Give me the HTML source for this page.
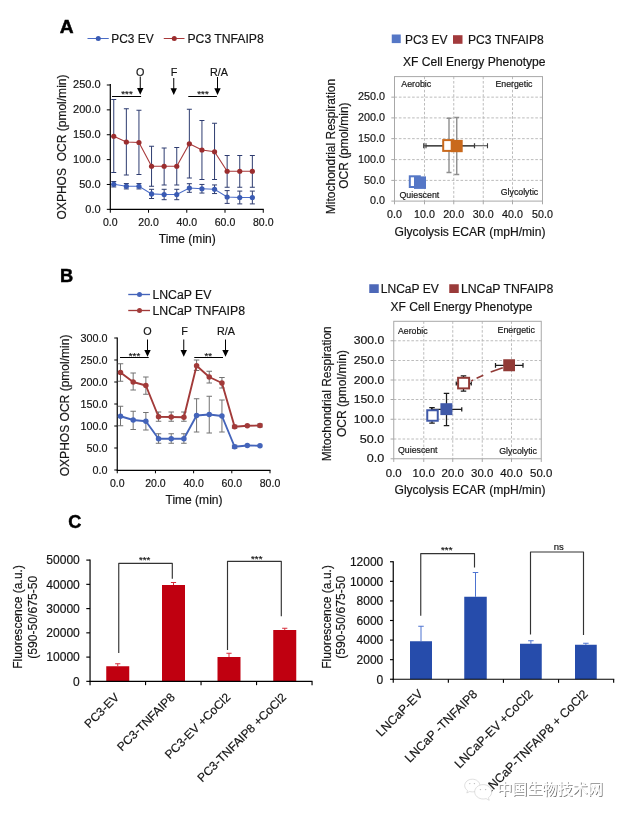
<!DOCTYPE html>
<html lang="en"><head><meta charset="utf-8"><title>Figure</title>
<style>html,body{margin:0;padding:0;background:#fff}svg{display:block}svg{will-change:transform;transform:translateZ(0)}text{font-family:"Liberation Sans",sans-serif;stroke:#141414;stroke-width:.18px}</style></head>
<body>
<svg width="622" height="816" viewBox="0 0 622 816">
<rect width="622" height="816" fill="#fff"/>
<text x="59.8" y="33.1" font-size="17.6" textLength="13.9" lengthAdjust="spacingAndGlyphs" font-weight="bold" fill="#000" style="stroke:#000;stroke-width:.45px">A</text>
<line x1="87.5" y1="38.5" x2="108.75" y2="38.5" stroke="#4a6cc6" stroke-width="1"/>
<circle cx="98.25" cy="38.5" r="2.5" fill="#3a5bb4"/>
<text x="111.25" y="43" font-size="12" textLength="42.4" lengthAdjust="spacingAndGlyphs" fill="#141414">PC3 EV</text>
<line x1="163.75" y1="38.5" x2="184.5" y2="38.5" stroke="#a8393a" stroke-width="1"/>
<circle cx="174.25" cy="38.5" r="2.5" fill="#9b2d2e"/>
<text x="187.5" y="43" font-size="12" textLength="76.25" lengthAdjust="spacingAndGlyphs" fill="#141414">PC3 TNFAIP8</text>
<text x="66" y="147" font-size="12" text-anchor="middle" textLength="145" lengthAdjust="spacingAndGlyphs" fill="#141414" transform="rotate(-90 66 147)">OXPHOS &#160;OCR (pmol/min)</text>
<line x1="110.3" y1="84" x2="110.3" y2="209.85" stroke="#000" stroke-width="1.2"/>
<line x1="109.8" y1="209.35" x2="263.75" y2="209.35" stroke="#000" stroke-width="1.2"/>
<line x1="106.8" y1="85.0" x2="110.3" y2="85.0" stroke="#000" stroke-width="1"/>
<text x="100.6" y="88.3" font-size="11" text-anchor="end" fill="#141414">250.0</text>
<line x1="106.8" y1="109.87" x2="110.3" y2="109.87" stroke="#000" stroke-width="1"/>
<text x="100.6" y="113.17" font-size="11" text-anchor="end" fill="#141414">200.0</text>
<line x1="106.8" y1="134.74" x2="110.3" y2="134.74" stroke="#000" stroke-width="1"/>
<text x="100.6" y="138.04" font-size="11" text-anchor="end" fill="#141414">150.0</text>
<line x1="106.8" y1="159.60999999999999" x2="110.3" y2="159.60999999999999" stroke="#000" stroke-width="1"/>
<text x="100.6" y="162.91" font-size="11" text-anchor="end" fill="#141414">100.0</text>
<line x1="106.8" y1="184.48" x2="110.3" y2="184.48" stroke="#000" stroke-width="1"/>
<text x="100.6" y="187.78" font-size="11" text-anchor="end" fill="#141414">50.0</text>
<line x1="106.8" y1="209.35" x2="110.3" y2="209.35" stroke="#000" stroke-width="1"/>
<text x="100.6" y="212.65" font-size="11" text-anchor="end" fill="#141414">0.0</text>
<line x1="110.3" y1="209.35" x2="110.3" y2="212.75" stroke="#000" stroke-width="1"/>
<text x="110.3" y="226.3" font-size="10.5" text-anchor="middle" fill="#141414">0.0</text>
<line x1="148.5375" y1="209.35" x2="148.5375" y2="212.75" stroke="#000" stroke-width="1"/>
<text x="148.54" y="226.3" font-size="10.5" text-anchor="middle" fill="#141414">20.0</text>
<line x1="186.77499999999998" y1="209.35" x2="186.77499999999998" y2="212.75" stroke="#000" stroke-width="1"/>
<text x="186.77" y="226.3" font-size="10.5" text-anchor="middle" fill="#141414">40.0</text>
<line x1="225.0125" y1="209.35" x2="225.0125" y2="212.75" stroke="#000" stroke-width="1"/>
<text x="225.01" y="226.3" font-size="10.5" text-anchor="middle" fill="#141414">60.0</text>
<line x1="263.25" y1="209.35" x2="263.25" y2="212.75" stroke="#000" stroke-width="1"/>
<text x="263.25" y="226.3" font-size="10.5" text-anchor="middle" fill="#141414">80.0</text>
<text x="187.25" y="243" font-size="12" text-anchor="middle" textLength="57" lengthAdjust="spacingAndGlyphs" fill="#141414">Time (min)</text>
<text x="140.1" y="75.6" font-size="10.8" text-anchor="middle" fill="#141414">O</text>
<path d="M140.25 76.5V89.0" stroke="#000" stroke-width="1" fill="none"/>
<path d="M137.05 88.0h6.4L140.25 94.8z" fill="#000"/>
<text x="174.1" y="75.6" font-size="10.8" text-anchor="middle" fill="#141414">F</text>
<path d="M173.75 78V89.2" stroke="#000" stroke-width="1" fill="none"/>
<path d="M170.55 88.2h6.4L173.75 95z" fill="#000"/>
<text x="219" y="75.6" font-size="10.8" text-anchor="middle" fill="#141414">R/A</text>
<path d="M217.5 77V89.2" stroke="#000" stroke-width="1" fill="none"/>
<path d="M214.3 88.2h6.4L217.5 95z" fill="#000"/>
<line x1="112" y1="96.5" x2="141.1" y2="96.5" stroke="#000" stroke-width="1"/>
<line x1="188.25" y1="96.5" x2="216.9" y2="96.5" stroke="#000" stroke-width="1"/>
<text x="127" y="97" font-size="9.7" text-anchor="middle" fill="#141414">***</text>
<text x="203" y="97" font-size="9.7" text-anchor="middle" fill="#141414">***</text>
<path d="M113.75 99.5V172.5M111.25 99.5h5M111.25 172.5h5" stroke="#2e3c70" stroke-width="1" fill="none"/>
<path d="M126.35 108.75V175M123.85 108.75h5M123.85 175h5" stroke="#2e3c70" stroke-width="1" fill="none"/>
<path d="M138.95 110.25V174.5M136.45 110.25h5M136.45 174.5h5" stroke="#2e3c70" stroke-width="1" fill="none"/>
<path d="M151.55 146.25V186.25M149.05 146.25h5M149.05 186.25h5" stroke="#2e3c70" stroke-width="1" fill="none"/>
<path d="M164.15 148V185M161.65 148h5M161.65 185h5" stroke="#2e3c70" stroke-width="1" fill="none"/>
<path d="M176.75 147.5V185M174.25 147.5h5M174.25 185h5" stroke="#2e3c70" stroke-width="1" fill="none"/>
<path d="M189.35 109.25V178M186.85 109.25h5M186.85 178h5" stroke="#2e3c70" stroke-width="1" fill="none"/>
<path d="M201.95 120.5V179.5M199.45 120.5h5M199.45 179.5h5" stroke="#2e3c70" stroke-width="1" fill="none"/>
<path d="M214.55 123.25V179.5M212.05 123.25h5M212.05 179.5h5" stroke="#2e3c70" stroke-width="1" fill="none"/>
<path d="M227.15 155.5V187.25M224.65 155.5h5M224.65 187.25h5" stroke="#2e3c70" stroke-width="1" fill="none"/>
<path d="M239.75 155.5V187.25M237.25 155.5h5M237.25 187.25h5" stroke="#2e3c70" stroke-width="1" fill="none"/>
<path d="M252.35 155.5V187.25M249.85 155.5h5M249.85 187.25h5" stroke="#2e3c70" stroke-width="1" fill="none"/>
<path d="M113.75 181.55V186.95M111.25 181.55h5M111.25 186.95h5" stroke="#2e3c70" stroke-width="1" fill="none"/>
<path d="M126.35 183.55V188.95M123.85 183.55h5M123.85 188.95h5" stroke="#2e3c70" stroke-width="1" fill="none"/>
<path d="M138.95 183.55V188.95M136.45 183.55h5M136.45 188.95h5" stroke="#2e3c70" stroke-width="1" fill="none"/>
<path d="M151.55 189.3V198.5M149.05 189.3h5M149.05 198.5h5" stroke="#2e3c70" stroke-width="1" fill="none"/>
<path d="M164.15 189.3V199.7M161.65 189.3h5M161.65 199.7h5" stroke="#2e3c70" stroke-width="1" fill="none"/>
<path d="M176.75 189.3V199.7M174.25 189.3h5M174.25 199.7h5" stroke="#2e3c70" stroke-width="1" fill="none"/>
<path d="M189.35 183.7V192.3M186.85 183.7h5M186.85 192.3h5" stroke="#2e3c70" stroke-width="1" fill="none"/>
<path d="M201.95 184.45V193.05M199.45 184.45h5M199.45 193.05h5" stroke="#2e3c70" stroke-width="1" fill="none"/>
<path d="M214.55 184.95V193.55M212.05 184.95h5M212.05 193.55h5" stroke="#2e3c70" stroke-width="1" fill="none"/>
<path d="M227.15 190.6V203.4M224.65 190.6h5M224.65 203.4h5" stroke="#2e3c70" stroke-width="1" fill="none"/>
<path d="M239.75 191.1V203.9M237.25 191.1h5M237.25 203.9h5" stroke="#2e3c70" stroke-width="1" fill="none"/>
<path d="M252.35 191.1V203.9M249.85 191.1h5M249.85 203.9h5" stroke="#2e3c70" stroke-width="1" fill="none"/>
<polyline points="113.75,136.25 126.35,142 138.95,142.5 151.55,166.25 164.15,166.25 176.75,166.25 189.35,143.75 201.95,150 214.55,151.75 227.15,171.25 239.75,171.25 252.35,171.25" fill="none" stroke="#a8393a" stroke-width="1.1"/>
<polyline points="113.75,184.25 126.35,186.25 138.95,186.25 151.55,193.9 164.15,194.5 176.75,194.5 189.35,188 201.95,188.75 214.55,189.25 227.15,197 239.75,197.5 252.35,197.5" fill="none" stroke="#4a6cc6" stroke-width="1.1"/>
<circle cx="113.75" cy="136.25" r="2.6" fill="#9b2d2e"/>
<circle cx="126.35" cy="142" r="2.6" fill="#9b2d2e"/>
<circle cx="138.95" cy="142.5" r="2.6" fill="#9b2d2e"/>
<circle cx="151.55" cy="166.25" r="2.6" fill="#9b2d2e"/>
<circle cx="164.15" cy="166.25" r="2.6" fill="#9b2d2e"/>
<circle cx="176.75" cy="166.25" r="2.6" fill="#9b2d2e"/>
<circle cx="189.35" cy="143.75" r="2.6" fill="#9b2d2e"/>
<circle cx="201.95" cy="150" r="2.6" fill="#9b2d2e"/>
<circle cx="214.55" cy="151.75" r="2.6" fill="#9b2d2e"/>
<circle cx="227.15" cy="171.25" r="2.6" fill="#9b2d2e"/>
<circle cx="239.75" cy="171.25" r="2.6" fill="#9b2d2e"/>
<circle cx="252.35" cy="171.25" r="2.6" fill="#9b2d2e"/>
<circle cx="113.75" cy="184.25" r="2.6" fill="#3a5bb4"/>
<circle cx="126.35" cy="186.25" r="2.6" fill="#3a5bb4"/>
<circle cx="138.95" cy="186.25" r="2.6" fill="#3a5bb4"/>
<circle cx="151.55" cy="193.9" r="2.6" fill="#3a5bb4"/>
<circle cx="164.15" cy="194.5" r="2.6" fill="#3a5bb4"/>
<circle cx="176.75" cy="194.5" r="2.6" fill="#3a5bb4"/>
<circle cx="189.35" cy="188" r="2.6" fill="#3a5bb4"/>
<circle cx="201.95" cy="188.75" r="2.6" fill="#3a5bb4"/>
<circle cx="214.55" cy="189.25" r="2.6" fill="#3a5bb4"/>
<circle cx="227.15" cy="197" r="2.6" fill="#3a5bb4"/>
<circle cx="239.75" cy="197.5" r="2.6" fill="#3a5bb4"/>
<circle cx="252.35" cy="197.5" r="2.6" fill="#3a5bb4"/>
<rect x="391.75" y="34.5" width="9" height="8.6" fill="#5577c6"/>
<text x="405" y="44" font-size="12" textLength="42.5" lengthAdjust="spacingAndGlyphs" fill="#141414">PC3 EV</text>
<rect x="453" y="35.2" width="9.5" height="8.6" fill="#a23a3c"/>
<text x="468" y="44" font-size="12" textLength="75.75" lengthAdjust="spacingAndGlyphs" fill="#141414">PC3 TNFAIP8</text>
<text x="403" y="65.5" font-size="12" textLength="142.5" lengthAdjust="spacingAndGlyphs" fill="#141414">XF Cell Energy Phenotype</text>
<line x1="394.5" y1="97.15" x2="542.5" y2="97.15" stroke="#b4b4b4" stroke-width="0.9" stroke-dasharray="2.6 1.8"/>
<line x1="394.5" y1="117.9" x2="542.5" y2="117.9" stroke="#b4b4b4" stroke-width="0.9" stroke-dasharray="2.6 1.8"/>
<line x1="394.5" y1="138.65" x2="542.5" y2="138.65" stroke="#b4b4b4" stroke-width="0.9" stroke-dasharray="2.6 1.8"/>
<line x1="394.5" y1="159.6" x2="542.5" y2="159.6" stroke="#b4b4b4" stroke-width="0.9" stroke-dasharray="2.6 1.8"/>
<line x1="394.5" y1="180.4" x2="542.5" y2="180.4" stroke="#b4b4b4" stroke-width="0.9" stroke-dasharray="2.6 1.8"/>
<line x1="424.5" y1="76.6" x2="424.5" y2="201.1" stroke="#b4b4b4" stroke-width="0.9" stroke-dasharray="2.6 1.8"/>
<line x1="453.75" y1="76.6" x2="453.75" y2="201.1" stroke="#b4b4b4" stroke-width="0.9" stroke-dasharray="2.6 1.8"/>
<line x1="483.25" y1="76.6" x2="483.25" y2="201.1" stroke="#b4b4b4" stroke-width="0.9" stroke-dasharray="2.6 1.8"/>
<line x1="512.5" y1="76.6" x2="512.5" y2="201.1" stroke="#b4b4b4" stroke-width="0.9" stroke-dasharray="2.6 1.8"/>
<rect x="394.5" y="76.6" width="148.0" height="124.5" fill="none" stroke="#a8a8a8" stroke-width="1"/>
<line x1="391.3" y1="97.15" x2="394.5" y2="97.15" stroke="#a8a8a8" stroke-width="1"/>
<text x="385" y="100.45" font-size="10.8" text-anchor="end" fill="#141414">250.0</text>
<line x1="391.3" y1="117.9" x2="394.5" y2="117.9" stroke="#a8a8a8" stroke-width="1"/>
<text x="385" y="121.2" font-size="10.8" text-anchor="end" fill="#141414">200.0</text>
<line x1="391.3" y1="138.65" x2="394.5" y2="138.65" stroke="#a8a8a8" stroke-width="1"/>
<text x="385" y="141.95" font-size="10.8" text-anchor="end" fill="#141414">150.0</text>
<line x1="391.3" y1="159.6" x2="394.5" y2="159.6" stroke="#a8a8a8" stroke-width="1"/>
<text x="385" y="162.9" font-size="10.8" text-anchor="end" fill="#141414">100.0</text>
<line x1="391.3" y1="180.4" x2="394.5" y2="180.4" stroke="#a8a8a8" stroke-width="1"/>
<text x="385" y="183.7" font-size="10.8" text-anchor="end" fill="#141414">50.0</text>
<line x1="391.3" y1="201.1" x2="394.5" y2="201.1" stroke="#a8a8a8" stroke-width="1"/>
<text x="385" y="204.4" font-size="10.8" text-anchor="end" fill="#141414">0.0</text>
<line x1="394.5" y1="201.1" x2="394.5" y2="204.29999999999998" stroke="#a8a8a8" stroke-width="1"/>
<text x="394.5" y="218.3" font-size="10.7" text-anchor="middle" fill="#141414">0.0</text>
<line x1="424.5" y1="201.1" x2="424.5" y2="204.29999999999998" stroke="#a8a8a8" stroke-width="1"/>
<text x="424.5" y="218.3" font-size="10.7" text-anchor="middle" fill="#141414">10.0</text>
<line x1="453.75" y1="201.1" x2="453.75" y2="204.29999999999998" stroke="#a8a8a8" stroke-width="1"/>
<text x="453.75" y="218.3" font-size="10.7" text-anchor="middle" fill="#141414">20.0</text>
<line x1="483.25" y1="201.1" x2="483.25" y2="204.29999999999998" stroke="#a8a8a8" stroke-width="1"/>
<text x="483.25" y="218.3" font-size="10.7" text-anchor="middle" fill="#141414">30.0</text>
<line x1="512.5" y1="201.1" x2="512.5" y2="204.29999999999998" stroke="#a8a8a8" stroke-width="1"/>
<text x="512.5" y="218.3" font-size="10.7" text-anchor="middle" fill="#141414">40.0</text>
<line x1="542.5" y1="201.1" x2="542.5" y2="204.29999999999998" stroke="#a8a8a8" stroke-width="1"/>
<text x="542.5" y="218.3" font-size="10.7" text-anchor="middle" fill="#141414">50.0</text>
<text x="394.5" y="236.25" font-size="12" textLength="151" lengthAdjust="spacingAndGlyphs" fill="#141414">Glycolysis ECAR (mpH/min)</text>
<text x="334.5" y="146.5" font-size="12" text-anchor="middle" textLength="135.4" lengthAdjust="spacingAndGlyphs" fill="#141414" transform="rotate(-90 334.5 146.5)">Mitochondrial Respiration</text>
<text x="348" y="145.6" font-size="12" text-anchor="middle" textLength="86.25" lengthAdjust="spacingAndGlyphs" fill="#141414" transform="rotate(-90 348 145.6)">OCR (pmol/min)</text>
<text x="401.25" y="87" font-size="8.8" textLength="30" lengthAdjust="spacingAndGlyphs" fill="#141414">Aerobic</text>
<text x="495.5" y="86.6" font-size="8.8" textLength="37" lengthAdjust="spacingAndGlyphs" fill="#141414">Energetic</text>
<text x="399.5" y="197.6" font-size="8.8" textLength="39.75" lengthAdjust="spacingAndGlyphs" fill="#141414">Quiescent</text>
<text x="500.75" y="195.1" font-size="8.8" textLength="37.5" lengthAdjust="spacingAndGlyphs" fill="#141414">Glycolytic</text>
<path d="M449 118.25V172.5M446.5 118.25h5M446.5 172.5h5" stroke="#8e8e8e" stroke-width="1.4" fill="none"/>
<path d="M456.75 117.5V174.5M454.25 117.5h5M454.25 174.5h5" stroke="#8e8e8e" stroke-width="1.4" fill="none"/>
<path d="M423.75 145.75H474.5M423.75 143.3v5M474.5 143.3v5" stroke="#3c3c3c" stroke-width="1.25" fill="none"/>
<path d="M426 145.75H487.5M426 143.3v5M487.5 143.3v5" stroke="#3c3c3c" stroke-width="1.1" fill="none"/>
<rect x="409.8" y="176.3" width="10" height="10.7" fill="#fff" stroke="#5577c6" stroke-width="2"/>
<rect x="414" y="176.4" width="12" height="12.5" fill="#5577c6"/>
<rect x="443.2" y="140.1" width="10" height="10.8" fill="#fff" stroke="#c9691c" stroke-width="2"/>
<rect x="450.7" y="139.9" width="12" height="12.3" fill="#c9691c"/>
<text x="60" y="282" font-size="17.6" textLength="13.2" lengthAdjust="spacingAndGlyphs" font-weight="bold" fill="#000" style="stroke:#000;stroke-width:.45px">B</text>
<line x1="128.25" y1="294.5" x2="150" y2="294.5" stroke="#4464ba" stroke-width="1.35"/>
<circle cx="139.5" cy="294.5" r="2.5" fill="#4464ba"/>
<text x="152.4" y="298.8" font-size="12" textLength="59" lengthAdjust="spacingAndGlyphs" fill="#141414">LNCaP EV</text>
<line x1="128.25" y1="310.5" x2="150" y2="310.5" stroke="#a23a39" stroke-width="1.35"/>
<circle cx="139.5" cy="310.5" r="2.5" fill="#a23a39"/>
<text x="152.4" y="314.8" font-size="12" textLength="92.6" lengthAdjust="spacingAndGlyphs" fill="#141414">LNCaP TNFAIP8</text>
<text x="69.5" y="405.4" font-size="12" text-anchor="middle" textLength="141.75" lengthAdjust="spacingAndGlyphs" fill="#141414" transform="rotate(-90 69.5 405.4)">OXPHOS OCR (pmol/min)</text>
<line x1="117.25" y1="337.5" x2="117.25" y2="470.8" stroke="#000" stroke-width="1.2"/>
<line x1="116.75" y1="470.3" x2="270.5" y2="470.3" stroke="#000" stroke-width="1.2"/>
<line x1="114.25" y1="338" x2="117.25" y2="338" stroke="#000" stroke-width="1"/>
<text x="107.5" y="341.9" font-size="10.8" text-anchor="end" fill="#141414">300.0</text>
<line x1="114.25" y1="360" x2="117.25" y2="360" stroke="#000" stroke-width="1"/>
<text x="107.5" y="363.9" font-size="10.8" text-anchor="end" fill="#141414">250.0</text>
<line x1="114.25" y1="382" x2="117.25" y2="382" stroke="#000" stroke-width="1"/>
<text x="107.5" y="385.9" font-size="10.8" text-anchor="end" fill="#141414">200.0</text>
<line x1="114.25" y1="404" x2="117.25" y2="404" stroke="#000" stroke-width="1"/>
<text x="107.5" y="407.9" font-size="10.8" text-anchor="end" fill="#141414">150.0</text>
<line x1="114.25" y1="426" x2="117.25" y2="426" stroke="#000" stroke-width="1"/>
<text x="107.5" y="429.9" font-size="10.8" text-anchor="end" fill="#141414">100.0</text>
<line x1="114.25" y1="448" x2="117.25" y2="448" stroke="#000" stroke-width="1"/>
<text x="107.5" y="451.9" font-size="10.8" text-anchor="end" fill="#141414">50.0</text>
<line x1="114.25" y1="470" x2="117.25" y2="470" stroke="#000" stroke-width="1"/>
<text x="107.5" y="473.9" font-size="10.8" text-anchor="end" fill="#141414">0.0</text>
<line x1="117.25" y1="470.3" x2="117.25" y2="473.3" stroke="#000" stroke-width="1"/>
<text x="117.25" y="486.8" font-size="10.5" text-anchor="middle" fill="#141414">0.0</text>
<line x1="155.44" y1="470.3" x2="155.44" y2="473.3" stroke="#000" stroke-width="1"/>
<text x="155.44" y="486.8" font-size="10.5" text-anchor="middle" fill="#141414">20.0</text>
<line x1="193.62" y1="470.3" x2="193.62" y2="473.3" stroke="#000" stroke-width="1"/>
<text x="193.62" y="486.8" font-size="10.5" text-anchor="middle" fill="#141414">40.0</text>
<line x1="231.81" y1="470.3" x2="231.81" y2="473.3" stroke="#000" stroke-width="1"/>
<text x="231.81" y="486.8" font-size="10.5" text-anchor="middle" fill="#141414">60.0</text>
<line x1="270.0" y1="470.3" x2="270.0" y2="473.3" stroke="#000" stroke-width="1"/>
<text x="270.0" y="486.8" font-size="10.5" text-anchor="middle" fill="#141414">80.0</text>
<text x="194" y="504.25" font-size="12" text-anchor="middle" textLength="57" lengthAdjust="spacingAndGlyphs" fill="#141414">Time (min)</text>
<text x="147.4" y="334.7" font-size="10.8" text-anchor="middle" fill="#141414">O</text>
<path d="M147.5 339.5V350.95" stroke="#000" stroke-width="1" fill="none"/>
<path d="M144.3 349.95h6.4L147.5 356.75z" fill="#000"/>
<text x="184.6" y="334.7" font-size="10.8" text-anchor="middle" fill="#141414">F</text>
<path d="M183.75 339.5V350.95" stroke="#000" stroke-width="1" fill="none"/>
<path d="M180.55 349.95h6.4L183.75 356.75z" fill="#000"/>
<text x="226" y="334.7" font-size="10.8" text-anchor="middle" fill="#141414">R/A</text>
<path d="M225.5 339.5V350.95" stroke="#000" stroke-width="1" fill="none"/>
<path d="M222.3 349.95h6.4L225.5 356.75z" fill="#000"/>
<line x1="120" y1="357.5" x2="148.75" y2="357.5" stroke="#000" stroke-width="1"/>
<line x1="194.25" y1="357.5" x2="223" y2="357.5" stroke="#000" stroke-width="1"/>
<text x="134.5" y="359" font-size="9.7" text-anchor="middle" fill="#141414">***</text>
<text x="208.2" y="359" font-size="9.7" text-anchor="middle" fill="#141414">**</text>
<path d="M120.5 363.75V381.25M117.75 363.75h5.5M117.75 381.25h5.5" stroke="#727272" stroke-width="1" fill="none"/>
<path d="M120.5 406.25V425.75M117.75 406.25h5.5M117.75 425.75h5.5" stroke="#727272" stroke-width="1" fill="none"/>
<path d="M133.18 373V390M130.43 373h5.5M130.43 390h5.5" stroke="#727272" stroke-width="1" fill="none"/>
<path d="M133.18 411.25V429.5M130.43 411.25h5.5M130.43 429.5h5.5" stroke="#727272" stroke-width="1" fill="none"/>
<path d="M145.86 377V394.25M143.11 377h5.5M143.11 394.25h5.5" stroke="#727272" stroke-width="1" fill="none"/>
<path d="M145.86 412.5V430M143.11 412.5h5.5M143.11 430h5.5" stroke="#727272" stroke-width="1" fill="none"/>
<path d="M158.54 412V421.25M155.79 412h5.5M155.79 421.25h5.5" stroke="#727272" stroke-width="1" fill="none"/>
<path d="M158.54 433.75V443.25M155.79 433.75h5.5M155.79 443.25h5.5" stroke="#727272" stroke-width="1" fill="none"/>
<path d="M171.22 412V421.25M168.47 412h5.5M168.47 421.25h5.5" stroke="#727272" stroke-width="1" fill="none"/>
<path d="M171.22 433.75V443.25M168.47 433.75h5.5M168.47 443.25h5.5" stroke="#727272" stroke-width="1" fill="none"/>
<path d="M183.9 412V421.25M181.15 412h5.5M181.15 421.25h5.5" stroke="#727272" stroke-width="1" fill="none"/>
<path d="M183.9 433.75V443.25M181.15 433.75h5.5M181.15 443.25h5.5" stroke="#727272" stroke-width="1" fill="none"/>
<path d="M196.58 360V370.5M193.83 360h5.5M193.83 370.5h5.5" stroke="#727272" stroke-width="1" fill="none"/>
<path d="M196.58 398.75V432M193.83 398.75h5.5M193.83 432h5.5" stroke="#727272" stroke-width="1" fill="none"/>
<path d="M209.26 371.25V383M206.51 371.25h5.5M206.51 383h5.5" stroke="#727272" stroke-width="1" fill="none"/>
<path d="M209.26 396.25V433M206.51 396.25h5.5M206.51 433h5.5" stroke="#727272" stroke-width="1" fill="none"/>
<path d="M221.94 377.5V388M219.19 377.5h5.5M219.19 388h5.5" stroke="#727272" stroke-width="1" fill="none"/>
<path d="M221.94 400V432M219.19 400h5.5M219.19 432h5.5" stroke="#727272" stroke-width="1" fill="none"/>
<path d="M234.62 425.2V428.2M231.87 425.2h5.5M231.87 428.2h5.5" stroke="#727272" stroke-width="1" fill="none"/>
<path d="M234.62 445.2V448.3M231.87 445.2h5.5M231.87 448.3h5.5" stroke="#727272" stroke-width="1" fill="none"/>
<path d="M259.98 424V427M257.23 424h5.5M257.23 427h5.5" stroke="#727272" stroke-width="1" fill="none"/>
<polyline points="120.50,372.5 133.18,382 145.86,385.5 158.54,416.75 171.22,417 183.90,417.25 196.58,365.75 209.26,377 221.94,383 234.62,426.75 247.30,425.75 259.98,425.5" fill="none" stroke="#a23a39" stroke-width="1.9" stroke-linejoin="round"/>
<polyline points="120.50,416.25 133.18,420 145.86,421.25 158.54,438.75 171.22,438.75 183.90,438.75 196.58,415.5 209.26,414.5 221.94,416 234.62,446.75 247.30,445.5 259.98,445.75" fill="none" stroke="#4464ba" stroke-width="1.9" stroke-linejoin="round"/>
<circle cx="120.50" cy="372.5" r="2.75" fill="#a23a39"/>
<circle cx="133.18" cy="382" r="2.75" fill="#a23a39"/>
<circle cx="145.86" cy="385.5" r="2.75" fill="#a23a39"/>
<circle cx="158.54" cy="416.75" r="2.75" fill="#a23a39"/>
<circle cx="171.22" cy="417" r="2.75" fill="#a23a39"/>
<circle cx="183.90" cy="417.25" r="2.75" fill="#a23a39"/>
<circle cx="196.58" cy="365.75" r="2.75" fill="#a23a39"/>
<circle cx="209.26" cy="377" r="2.75" fill="#a23a39"/>
<circle cx="221.94" cy="383" r="2.75" fill="#a23a39"/>
<circle cx="234.62" cy="426.75" r="2.75" fill="#a23a39"/>
<circle cx="247.30" cy="425.75" r="2.75" fill="#a23a39"/>
<circle cx="259.98" cy="425.5" r="2.75" fill="#a23a39"/>
<circle cx="120.50" cy="416.25" r="2.75" fill="#4464ba"/>
<circle cx="133.18" cy="420" r="2.75" fill="#4464ba"/>
<circle cx="145.86" cy="421.25" r="2.75" fill="#4464ba"/>
<circle cx="158.54" cy="438.75" r="2.75" fill="#4464ba"/>
<circle cx="171.22" cy="438.75" r="2.75" fill="#4464ba"/>
<circle cx="183.90" cy="438.75" r="2.75" fill="#4464ba"/>
<circle cx="196.58" cy="415.5" r="2.75" fill="#4464ba"/>
<circle cx="209.26" cy="414.5" r="2.75" fill="#4464ba"/>
<circle cx="221.94" cy="416" r="2.75" fill="#4464ba"/>
<circle cx="234.62" cy="446.75" r="2.75" fill="#4464ba"/>
<circle cx="247.30" cy="445.5" r="2.75" fill="#4464ba"/>
<circle cx="259.98" cy="445.75" r="2.75" fill="#4464ba"/>
<rect x="369.25" y="284.25" width="9.5" height="8.75" fill="#4d68b8"/>
<text x="380.75" y="292.6" font-size="12" textLength="58" lengthAdjust="spacingAndGlyphs" fill="#141414">LNCaP EV</text>
<rect x="449.25" y="284.25" width="9.5" height="8.75" fill="#9a3b3a"/>
<text x="460.9" y="292.6" font-size="12" textLength="92.4" lengthAdjust="spacingAndGlyphs" fill="#141414">LNCaP TNFAIP8</text>
<text x="390.5" y="310.5" font-size="12" textLength="142" lengthAdjust="spacingAndGlyphs" fill="#141414">XF Cell Energy Phenotype</text>
<line x1="393.75" y1="340.75" x2="541.25" y2="340.75" stroke="#b4b4b4" stroke-width="0.9" stroke-dasharray="2.6 1.8"/>
<line x1="393.75" y1="360.5" x2="541.25" y2="360.5" stroke="#b4b4b4" stroke-width="0.9" stroke-dasharray="2.6 1.8"/>
<line x1="393.75" y1="380" x2="541.25" y2="380" stroke="#b4b4b4" stroke-width="0.9" stroke-dasharray="2.6 1.8"/>
<line x1="393.75" y1="399.5" x2="541.25" y2="399.5" stroke="#b4b4b4" stroke-width="0.9" stroke-dasharray="2.6 1.8"/>
<line x1="393.75" y1="419.25" x2="541.25" y2="419.25" stroke="#b4b4b4" stroke-width="0.9" stroke-dasharray="2.6 1.8"/>
<line x1="393.75" y1="439" x2="541.25" y2="439" stroke="#b4b4b4" stroke-width="0.9" stroke-dasharray="2.6 1.8"/>
<line x1="423.75" y1="321.3" x2="423.75" y2="458.75" stroke="#b4b4b4" stroke-width="0.9" stroke-dasharray="2.6 1.8"/>
<line x1="452.75" y1="321.3" x2="452.75" y2="458.75" stroke="#b4b4b4" stroke-width="0.9" stroke-dasharray="2.6 1.8"/>
<line x1="482.25" y1="321.3" x2="482.25" y2="458.75" stroke="#b4b4b4" stroke-width="0.9" stroke-dasharray="2.6 1.8"/>
<line x1="511.5" y1="321.3" x2="511.5" y2="458.75" stroke="#b4b4b4" stroke-width="0.9" stroke-dasharray="2.6 1.8"/>
<rect x="393.75" y="321.3" width="147.5" height="137.45" fill="none" stroke="#a8a8a8" stroke-width="1"/>
<line x1="390.55" y1="340.75" x2="393.75" y2="340.75" stroke="#a8a8a8" stroke-width="1"/>
<text x="384.25" y="344.35" font-size="10.6" text-anchor="end" textLength="30.5" lengthAdjust="spacingAndGlyphs" fill="#141414">300.0</text>
<line x1="390.55" y1="360.5" x2="393.75" y2="360.5" stroke="#a8a8a8" stroke-width="1"/>
<text x="384.25" y="364.1" font-size="10.6" text-anchor="end" textLength="30.5" lengthAdjust="spacingAndGlyphs" fill="#141414">250.0</text>
<line x1="390.55" y1="380" x2="393.75" y2="380" stroke="#a8a8a8" stroke-width="1"/>
<text x="384.25" y="383.6" font-size="10.6" text-anchor="end" textLength="30.5" lengthAdjust="spacingAndGlyphs" fill="#141414">200.0</text>
<line x1="390.55" y1="399.5" x2="393.75" y2="399.5" stroke="#a8a8a8" stroke-width="1"/>
<text x="384.25" y="403.1" font-size="10.6" text-anchor="end" textLength="30.5" lengthAdjust="spacingAndGlyphs" fill="#141414">150.0</text>
<line x1="390.55" y1="419.25" x2="393.75" y2="419.25" stroke="#a8a8a8" stroke-width="1"/>
<text x="384.25" y="422.85" font-size="10.6" text-anchor="end" textLength="30.5" lengthAdjust="spacingAndGlyphs" fill="#141414">100.0</text>
<line x1="390.55" y1="439" x2="393.75" y2="439" stroke="#a8a8a8" stroke-width="1"/>
<text x="384.25" y="442.6" font-size="10.6" text-anchor="end" textLength="24.5" lengthAdjust="spacingAndGlyphs" fill="#141414">50.0</text>
<line x1="390.55" y1="458.75" x2="393.75" y2="458.75" stroke="#a8a8a8" stroke-width="1"/>
<text x="384.25" y="462.35" font-size="10.6" text-anchor="end" textLength="17.5" lengthAdjust="spacingAndGlyphs" fill="#141414">0.0</text>
<line x1="393.75" y1="458.75" x2="393.75" y2="461.95" stroke="#a8a8a8" stroke-width="1"/>
<text x="393.75" y="477" font-size="11.3" text-anchor="middle" textLength="15.9" lengthAdjust="spacingAndGlyphs" fill="#141414">0.0</text>
<line x1="423.75" y1="458.75" x2="423.75" y2="461.95" stroke="#a8a8a8" stroke-width="1"/>
<text x="423.75" y="477" font-size="11.3" text-anchor="middle" textLength="22.3" lengthAdjust="spacingAndGlyphs" fill="#141414">10.0</text>
<line x1="452.75" y1="458.75" x2="452.75" y2="461.95" stroke="#a8a8a8" stroke-width="1"/>
<text x="452.75" y="477" font-size="11.3" text-anchor="middle" textLength="22.3" lengthAdjust="spacingAndGlyphs" fill="#141414">20.0</text>
<line x1="482.25" y1="458.75" x2="482.25" y2="461.95" stroke="#a8a8a8" stroke-width="1"/>
<text x="482.25" y="477" font-size="11.3" text-anchor="middle" textLength="22.3" lengthAdjust="spacingAndGlyphs" fill="#141414">30.0</text>
<line x1="511.5" y1="458.75" x2="511.5" y2="461.95" stroke="#a8a8a8" stroke-width="1"/>
<text x="511.5" y="477" font-size="11.3" text-anchor="middle" textLength="22.3" lengthAdjust="spacingAndGlyphs" fill="#141414">40.0</text>
<line x1="541.25" y1="458.75" x2="541.25" y2="461.95" stroke="#a8a8a8" stroke-width="1"/>
<text x="541.25" y="477" font-size="11.3" text-anchor="middle" textLength="22.3" lengthAdjust="spacingAndGlyphs" fill="#141414">50.0</text>
<text x="394.5" y="493.75" font-size="12" textLength="151" lengthAdjust="spacingAndGlyphs" fill="#141414">Glycolysis ECAR (mpH/min)</text>
<text x="331.2" y="393.75" font-size="12" text-anchor="middle" textLength="135" lengthAdjust="spacingAndGlyphs" fill="#141414" transform="rotate(-90 331.2 393.75)">Mitochondrial Respiration</text>
<text x="346.4" y="393.5" font-size="12" text-anchor="middle" textLength="87" lengthAdjust="spacingAndGlyphs" fill="#141414" transform="rotate(-90 346.4 393.5)">OCR (pmol/min)</text>
<text x="398" y="334" font-size="8.8" textLength="29.5" lengthAdjust="spacingAndGlyphs" fill="#141414">Aerobic</text>
<text x="497.5" y="333.4" font-size="8.8" textLength="37.5" lengthAdjust="spacingAndGlyphs" fill="#141414">Energetic</text>
<text x="398" y="453.2" font-size="8.8" textLength="39.5" lengthAdjust="spacingAndGlyphs" fill="#141414">Quiescent</text>
<text x="499.25" y="454" font-size="8.8" textLength="37.75" lengthAdjust="spacingAndGlyphs" fill="#141414">Glycolytic</text>
<path d="M432 407.5V423M429.25 407.5h5.5M429.25 423h5.5" stroke="#1c1c1c" stroke-width="1.25" fill="none"/>
<path d="M446.5 393.25V425.5M443.75 393.25h5.5M443.75 425.5h5.5" stroke="#1c1c1c" stroke-width="1.25" fill="none"/>
<path d="M431.5 409.25H461.75M461.75 407.2v4.4M431.5 407.2v4.4" stroke="#1c1c1c" stroke-width="1.25" fill="none"/>
<path d="M463.5 375.75V391M460.75 375.75h5.5M460.75 391h5.5" stroke="#1c1c1c" stroke-width="1.25" fill="none"/>
<path d="M456.25 383.5H471.25M456.25 381.5v4M471.25 381.5v4" stroke="#1c1c1c" stroke-width="1.25" fill="none"/>
<path d="M495.5 365.25H523M495.5 362.9v4.8M523 362.9v4.8" stroke="#1c1c1c" stroke-width="1.25" fill="none"/>
<path d="M471.3 380.9L473.05 380.1M476.6 378.3L483.3 375.3M490.7 372.1L502.8 367.7" stroke="#913a36" stroke-width="1.6" fill="none"/>
<rect x="427.25" y="410.25" width="10.5" height="10.5" fill="#fff" stroke="#4059a8" stroke-width="2"/>
<rect x="440.4" y="403.2" width="12" height="11.9" fill="#4059a8"/>
<rect x="458.1" y="377.8" width="11" height="10.6" fill="#fff" stroke="#913a36" stroke-width="2"/>
<rect x="503.25" y="359.25" width="11.75" height="12" fill="#913a36"/>
<text x="68.25" y="527.5" font-size="17.6" textLength="13.1" lengthAdjust="spacingAndGlyphs" font-weight="bold" fill="#000" style="stroke:#000;stroke-width:.45px">C</text>
<text x="21.9" y="616.9" font-size="12" text-anchor="middle" textLength="103.75" lengthAdjust="spacingAndGlyphs" fill="#141414" transform="rotate(-90 21.9 616.9)">Fluorescence (a.u.)</text>
<text x="36.9" y="617.25" font-size="12" text-anchor="middle" textLength="83" lengthAdjust="spacingAndGlyphs" fill="#141414" transform="rotate(-90 36.9 617.25)">(590-50/675-50</text>
<line x1="86.3" y1="560.1" x2="90.05" y2="560.1" stroke="#000" stroke-width="1.15"/>
<text x="79.8" y="564.4" font-size="12" text-anchor="end" textLength="33.5" lengthAdjust="spacingAndGlyphs" fill="#141414">50000</text>
<line x1="86.3" y1="584.35" x2="90.05" y2="584.35" stroke="#000" stroke-width="1.15"/>
<text x="79.8" y="588.65" font-size="12" text-anchor="end" textLength="33.5" lengthAdjust="spacingAndGlyphs" fill="#141414">40000</text>
<line x1="86.3" y1="608.6" x2="90.05" y2="608.6" stroke="#000" stroke-width="1.15"/>
<text x="79.8" y="612.9" font-size="12" text-anchor="end" textLength="33.5" lengthAdjust="spacingAndGlyphs" fill="#141414">30000</text>
<line x1="86.3" y1="632.85" x2="90.05" y2="632.85" stroke="#000" stroke-width="1.15"/>
<text x="79.8" y="637.15" font-size="12" text-anchor="end" textLength="33.5" lengthAdjust="spacingAndGlyphs" fill="#141414">20000</text>
<line x1="86.3" y1="657.1" x2="90.05" y2="657.1" stroke="#000" stroke-width="1.15"/>
<text x="79.8" y="661.4" font-size="12" text-anchor="end" textLength="33.5" lengthAdjust="spacingAndGlyphs" fill="#141414">10000</text>
<line x1="86.3" y1="681.35" x2="90.05" y2="681.35" stroke="#000" stroke-width="1.15"/>
<text x="79.8" y="685.65" font-size="12" text-anchor="end" fill="#141414">0</text>
<path d="M117.75 666.25V663.75M115.15 663.75h5.2" stroke="#d62c3a" stroke-width="1" fill="none"/>
<rect x="106.25" y="666.25" width="23.0" height="15.149999999999977" fill="#c00010"/>
<path d="M173.5 585V582.5M170.9 582.5h5.2" stroke="#d62c3a" stroke-width="1" fill="none"/>
<rect x="162" y="585" width="23" height="96.39999999999998" fill="#c00010"/>
<path d="M229.0 657V653.25M226.4 653.25h5.2" stroke="#d62c3a" stroke-width="1" fill="none"/>
<rect x="217.5" y="657" width="23.0" height="24.399999999999977" fill="#c00010"/>
<path d="M284.75 630V628.25M282.15 628.25h5.2" stroke="#d62c3a" stroke-width="1" fill="none"/>
<rect x="273.25" y="630" width="23.0" height="51.39999999999998" fill="#c00010"/>
<line x1="90.05" y1="559.6" x2="90.05" y2="681.9" stroke="#000" stroke-width="1.2"/>
<line x1="89.55" y1="681.4" x2="312.5" y2="681.4" stroke="#000" stroke-width="1.2"/>
<line x1="90.05" y1="681.4" x2="90.05" y2="685.15" stroke="#000" stroke-width="1.15"/>
<line x1="145.55" y1="681.4" x2="145.55" y2="685.15" stroke="#000" stroke-width="1.15"/>
<line x1="201.05" y1="681.4" x2="201.05" y2="685.15" stroke="#000" stroke-width="1.15"/>
<line x1="256.55" y1="681.4" x2="256.55" y2="685.15" stroke="#000" stroke-width="1.15"/>
<line x1="312.05" y1="681.4" x2="312.05" y2="685.15" stroke="#000" stroke-width="1.15"/>
<path d="M118.75 653V563.3H172.3V578.75" stroke="#333" stroke-width="1.15" stroke-linejoin="round" fill="none"/>
<path d="M227.5 650V561.3H281.3V616.25" stroke="#333" stroke-width="1.15" stroke-linejoin="round" fill="none"/>
<text x="144.6" y="563" font-size="9.7" text-anchor="middle" fill="#141414">***</text>
<text x="256.75" y="562" font-size="9.7" text-anchor="middle" fill="#141414">***</text>
<text x="119.95" y="698" font-size="12" text-anchor="end" fill="#141414" transform="rotate(-45 119.95 698)">PC3-EV</text>
<text x="175.7" y="698" font-size="12" text-anchor="end" fill="#141414" transform="rotate(-45 175.7 698)">PC3-TNFAIP8</text>
<text x="231.2" y="698" font-size="12" text-anchor="end" fill="#141414" transform="rotate(-45 231.2 698)">PC3-EV +CoCl2</text>
<text x="286.95" y="698" font-size="12" text-anchor="end" fill="#141414" transform="rotate(-45 286.95 698)">PC3-TNFAIP8 +CoCl2</text>
<text x="331.1" y="616.9" font-size="12" text-anchor="middle" textLength="103.75" lengthAdjust="spacingAndGlyphs" fill="#141414" transform="rotate(-90 331.1 616.9)">Fluorescence (a.u.)</text>
<text x="344.6" y="617.25" font-size="12" text-anchor="middle" textLength="83" lengthAdjust="spacingAndGlyphs" fill="#141414" transform="rotate(-90 344.6 617.25)">(590-50/675-50</text>
<line x1="390.0" y1="561.75" x2="393.25" y2="561.75" stroke="#000" stroke-width="1.15"/>
<text x="383.25" y="566.05" font-size="12" text-anchor="end" fill="#141414">12000</text>
<line x1="390.0" y1="581.33" x2="393.25" y2="581.33" stroke="#000" stroke-width="1.15"/>
<text x="383.25" y="585.63" font-size="12" text-anchor="end" fill="#141414">10000</text>
<line x1="390.0" y1="600.92" x2="393.25" y2="600.92" stroke="#000" stroke-width="1.15"/>
<text x="383.25" y="605.22" font-size="12" text-anchor="end" fill="#141414">8000</text>
<line x1="390.0" y1="620.5" x2="393.25" y2="620.5" stroke="#000" stroke-width="1.15"/>
<text x="383.25" y="624.8" font-size="12" text-anchor="end" fill="#141414">6000</text>
<line x1="390.0" y1="640.08" x2="393.25" y2="640.08" stroke="#000" stroke-width="1.15"/>
<text x="383.25" y="644.38" font-size="12" text-anchor="end" fill="#141414">4000</text>
<line x1="390.0" y1="659.67" x2="393.25" y2="659.67" stroke="#000" stroke-width="1.15"/>
<text x="383.25" y="663.97" font-size="12" text-anchor="end" fill="#141414">2000</text>
<line x1="390.0" y1="679.25" x2="393.25" y2="679.25" stroke="#000" stroke-width="1.15"/>
<text x="383.25" y="683.55" font-size="12" text-anchor="end" fill="#141414">0</text>
<path d="M421.0 641.25V626.25M418.25 626.25h5.5" stroke="#4d73d0" stroke-width="1" fill="none"/>
<rect x="410" y="641.25" width="22" height="38.0" fill="#264cab"/>
<path d="M475.5 596.75V572.5M472.75 572.5h5.5" stroke="#4d73d0" stroke-width="1" fill="none"/>
<rect x="464.25" y="596.75" width="22.5" height="82.5" fill="#264cab"/>
<path d="M530.875 643.75V640.75M528.125 640.75h5.5" stroke="#4d73d0" stroke-width="1" fill="none"/>
<rect x="520" y="643.75" width="21.75" height="35.5" fill="#264cab"/>
<path d="M585.875 644.75V643.25M583.125 643.25h5.5" stroke="#4d73d0" stroke-width="1" fill="none"/>
<rect x="575" y="644.75" width="21.75" height="34.5" fill="#264cab"/>
<line x1="393.25" y1="561.25" x2="393.25" y2="679.75" stroke="#000" stroke-width="1.2"/>
<line x1="392.75" y1="679.25" x2="614.25" y2="679.25" stroke="#000" stroke-width="1.2"/>
<line x1="393.25" y1="679.25" x2="393.25" y2="682.85" stroke="#000" stroke-width="1.15"/>
<line x1="448.35" y1="679.25" x2="448.35" y2="682.85" stroke="#000" stroke-width="1.15"/>
<line x1="503.45" y1="679.25" x2="503.45" y2="682.85" stroke="#000" stroke-width="1.15"/>
<line x1="558.55" y1="679.25" x2="558.55" y2="682.85" stroke="#000" stroke-width="1.15"/>
<line x1="613.65" y1="679.25" x2="613.65" y2="682.85" stroke="#000" stroke-width="1.15"/>
<path d="M420.75 615.75V553.6H474.5V567.5" stroke="#333" stroke-width="1.15" stroke-linejoin="round" fill="none"/>
<path d="M530.5 634.5V552H583.5V635" stroke="#333" stroke-width="1.15" stroke-linejoin="round" fill="none"/>
<text x="446.75" y="553.4" font-size="9.7" text-anchor="middle" fill="#141414">***</text>
<text x="558.75" y="549.8" font-size="9.5" text-anchor="middle" fill="#141414">ns</text>
<text x="423.6" y="694.8" font-size="12.3" text-anchor="end" fill="#141414" transform="rotate(-45 423.6 694.8)">LNCaP-EV</text>
<text x="478.1" y="694.8" font-size="12.3" text-anchor="end" fill="#141414" transform="rotate(-45 478.1 694.8)">LNCaP -TNFAIP8</text>
<text x="533.6" y="694.8" font-size="12.3" text-anchor="end" fill="#141414" transform="rotate(-45 533.6 694.8)">LNCaP-EV +CoCl2</text>
<text x="588.6" y="694.8" font-size="12.3" text-anchor="end" fill="#141414" transform="rotate(-45 588.6 694.8)">LNCaP-TNFAIP8 + CoCl2</text>
<g fill="#fff" stroke="#cacaca" stroke-width="0.6"><path d="M472.3 779.2c-4.3 0-7.6 2.9-7.6 6.4 0 2 1.1 3.8 2.9 5l-.8 2.4 2.9-1.5c.8.2 1.7.4 2.6.4 4.3 0 7.6-2.9 7.6-6.4s-3.300-6.300-7.600-6.300z"/><path d="M483.2 784.6c-4.700 0-8.500 3.200-8.500 7.200s3.800 7.200 8.500 7.200c1 0 2-.2 2.900-.4l3.100 1.700-.8-2.700c2-1.300 3.300-3.400 3.300-5.700 0-4-3.800-7.300-8.500-7.300z"/></g>
<g fill="#bcbcbc"><circle cx="469.8" cy="783.6" r=".7"/><circle cx="474.4" cy="783.6" r=".7"/><circle cx="480.4" cy="789.6" r=".7"/><circle cx="485.6" cy="789.6" r=".7"/></g>
<text x="498" y="794.9" font-size="15.1" textLength="105.8" lengthAdjust="spacingAndGlyphs" fill="#747474" style="font-family:'Liberation Sans','Noto Sans CJK SC',sans-serif;stroke:none">中国生物技术网</text>
<text x="497" y="793.9" font-size="15.1" textLength="105.8" lengthAdjust="spacingAndGlyphs" fill="#fff" style="font-family:'Liberation Sans','Noto Sans CJK SC',sans-serif;stroke:#fff;stroke-width:.45px">中国生物技术网</text>
</svg>
</body></html>
